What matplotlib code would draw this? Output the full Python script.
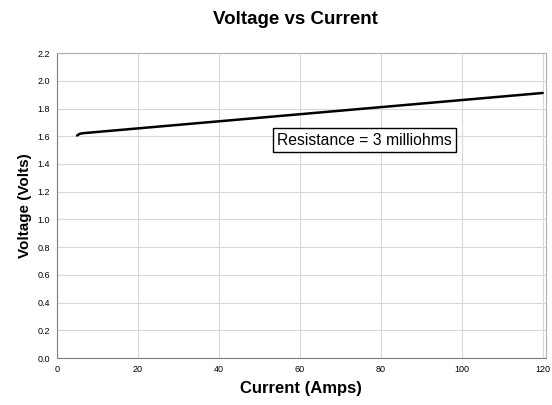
import matplotlib
matplotlib.use("Agg")
import matplotlib.pyplot as plt

plt.rcParams['font.family'] = ['Liberation Sans', 'DejaVu Sans']

current = [5.0, 5.6, 6.5, 120.0]
voltage = [1.605, 1.617, 1.622, 1.912]
x_ticks = [0, 20, 40, 60, 80, 100, 120]
y_ticks = [0.0, 0.2, 0.4, 0.6, 0.8, 1.0, 1.2, 1.4, 1.6, 1.8, 2.0, 2.2]

fig = plt.figure(figsize=(5.52, 4.05), dpi=100)
ax = fig.add_axes([0.103, 0.116, 0.886, 0.753])
ax.plot(current, voltage, color='black', lw=1.8, solid_capstyle='round', solid_joinstyle='round')
ax.set_xlim(0, 120.8)
ax.set_ylim(0, 2.2)
ax.set_xticks(x_ticks)
ax.set_yticks(y_ticks)
ax.set_yticklabels([f"{v:.1f}" for v in y_ticks])
ax.grid(True, color='#d8d8d8', lw=0.8)
ax.set_axisbelow(True)
for s in ['left', 'bottom']:
    ax.spines[s].set_color('#808080')
for s in ['top', 'right']:
    ax.spines[s].set_color('#b0b0b0')
ax.tick_params(length=0, labelsize=6.5, pad=5)
fig.text(0.535, 0.952, 'Voltage vs Current', fontsize=13.5, fontweight='bold', ha='center', va='center')
ax.set_ylabel('Voltage (Volts)', fontsize=11, fontweight='bold', labelpad=4)
ax.set_xlabel('Current (Amps)', fontsize=12, fontweight='bold', labelpad=5)
ax.text(76, 1.57, 'Resistance = 3 milliohms', fontsize=11.3, ha='center', va='center',
        bbox=dict(boxstyle='square,pad=0.28', fc='white', ec='black', lw=1.0))
fig.savefig('out.png', dpi=100)
